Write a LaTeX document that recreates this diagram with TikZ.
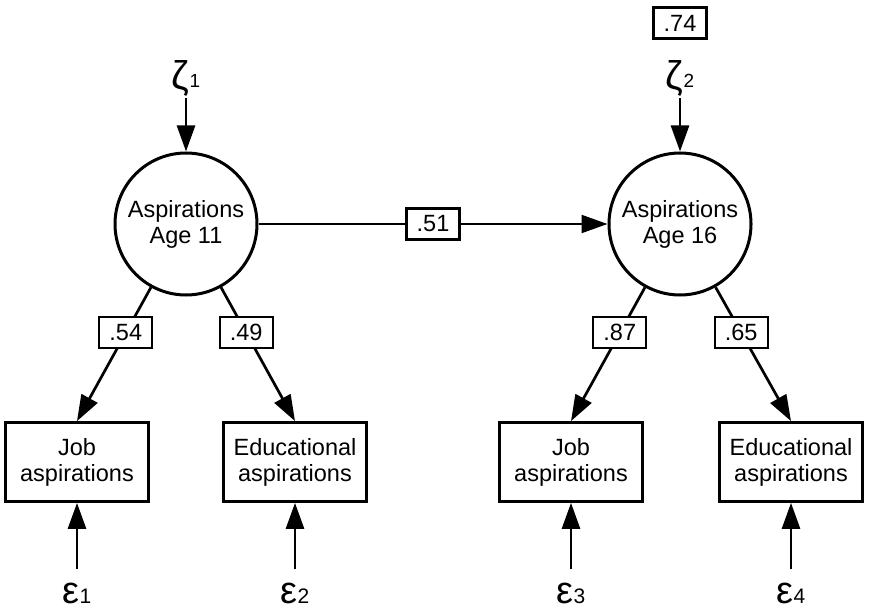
\documentclass[tikz,border=0pt]{standalone}
\usepackage{fontspec}
\setmainfont{Liberation Sans}
\usetikzlibrary{calc}
\usetikzlibrary{arrows.meta}
\usetikzlibrary{positioning}

\tikzset{
  latent/.style={circle, draw, line width=3pt, minimum size=142pt, inner sep=0pt, align=center},
  manifest/.style={rectangle, draw, line width=2.8pt, minimum width=143pt, minimum height=79pt, inner sep=0pt, align=center},
  coef/.style={rectangle, draw, fill=white, line width=2.1pt, minimum width=53pt, minimum height=31pt, inner sep=0pt},
  errlab/.style={inner sep=1pt, anchor=base},
  load/.style={line width=2.7pt, -{Triangle[length=26pt,width=18pt]}},
}
\newcommand{\greekerr}[2]{{\fontsize{38}{38}\selectfont #1}{\fontsize{21}{21}\selectfont #2}}

\begin{document}
\begin{tikzpicture}[x=1pt,y=-1pt,font=\fontsize{23.5}{26}\selectfont]
\useasboundingbox (0,0) rectangle (869,612);
\node[latent] (asp11) at (186,224) {Aspirations\\Age 11};
\node[latent] (asp16) at (680,224) {Aspirations\\Age 16};
\node[manifest] (job11) at (77,462) {Job\\aspirations};
\node[manifest] (edu11) at (295,462) {Educational\\aspirations};
\node[manifest] (job16) at (571,462) {Job\\aspirations};
\node[manifest] (edu16) at (791,462) {Educational\\aspirations};
\node[coef] (var16) at (680,23) {.74};
\node[errlab] (zeta11) at (186,90) {{\fontsize{40}{40}\selectfont ζ}\raisebox{2pt}{\fontsize{19}{19}\selectfont 1}};
\node[errlab] (zeta16) at (680,90) {{\fontsize{40}{40}\selectfont ζ}\raisebox{2pt}{\fontsize{19}{19}\selectfont 2}};
\draw[load] (zeta11) -- (asp11);
\draw[load] (zeta16) -- (asp16);
\draw[load, line width=2.1pt] (asp11) -- node[coef] (b11) {.51} (asp16);
\draw[load] (asp11) -- node[coef, pos=.34] (l1) {.54} (job11.north);
\draw[load] (asp11) -- node[coef, pos=.34] (l2) {.49} (edu11.north);
\draw[load] (asp16) -- node[coef, pos=.34] (l3) {.87} (job16.north);
\draw[load] (asp16) -- node[coef, pos=.34] (l4) {.65} (edu16.north);
\foreach \m/\i in {job11/1,edu11/2,job16/3,edu16/4} {
 \node[errlab] (eps\i) at ($(\m)+(0,141)$) {\greekerr{ε}{\i}};
 \draw[load, shorten <=12pt] (eps\i) -- (\m);
}
\end{tikzpicture}
\end{document}
